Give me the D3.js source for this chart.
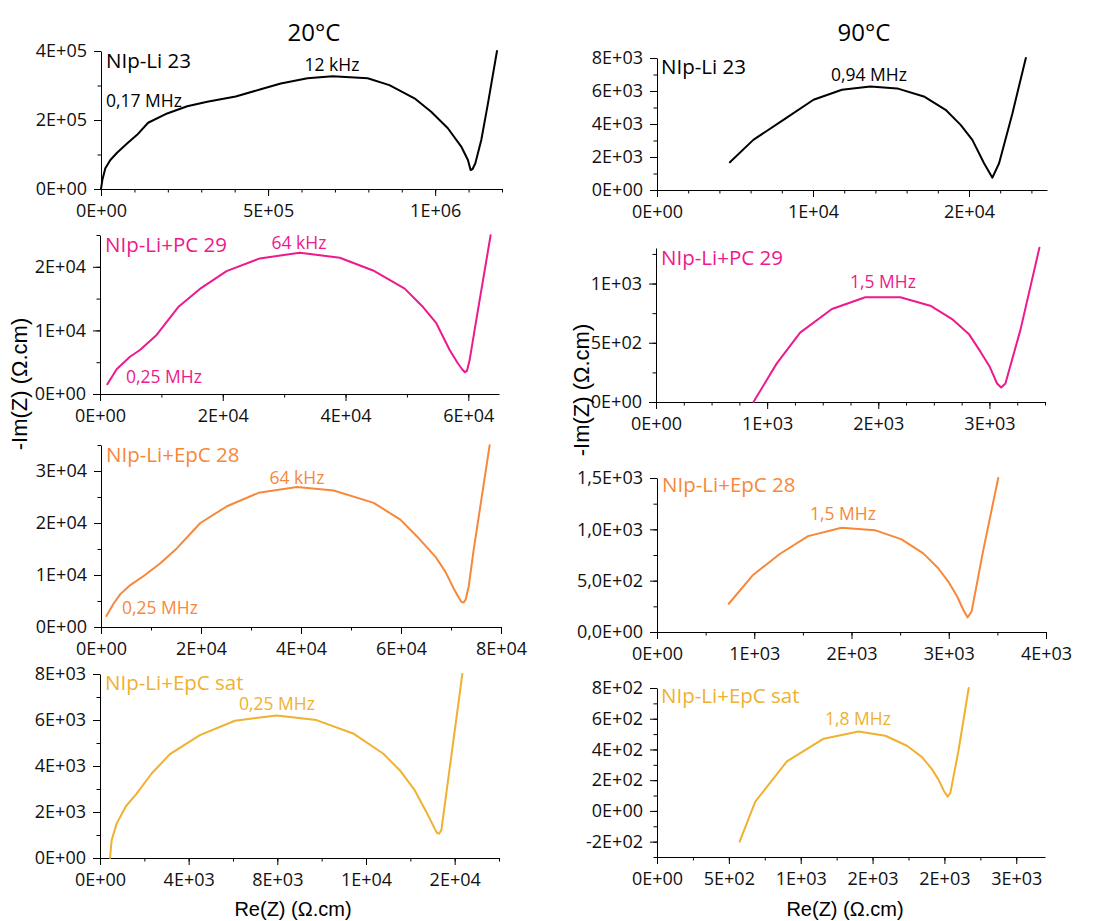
<!DOCTYPE html>
<html>
<head>
<meta charset="utf-8">
<script src="https://cdn.jsdelivr.net/npm/d3@7"></script>
<style>
  html, body { margin: 0; padding: 0; background: #fff; }
  svg { display: block; }
</style>
</head>
<body>
<svg id="chart" width="1107" height="921"></svg>
<script>
// ---------------- DATA ----------------
// 20 °C, NIp-Li 23
const re20_li23 = [0, 4e3, 13e3, 28e3, 48e3, 78e3, 108e3, 141e3, 198e3, 258e3, 318e3, 403e3, 478e3, 538e3, 618e3, 693e3, 798e3, 863e3, 938e3, 988e3, 1038e3, 1078e3, 1098e3, 1106e3, 1112e3, 1120e3, 1138e3, 1158e3, 1185e3];
const im20_li23 = [0, 26e3, 60e3, 84e3, 105e3, 132e3, 157e3, 192e3, 219e3, 240e3, 253e3, 268e3, 289e3, 306e3, 321e3, 327e3, 321e3, 301e3, 263e3, 224e3, 176e3, 123e3, 84e3, 55e3, 58e3, 74e3, 142e3, 248e3, 400e3];
// 90 °C, NIp-Li 23
const re90_li23 = [4673, 6174, 8103, 10032, 11854, 13676, 15391, 17106, 18499, 19464, 20214, 20964, 21500, 21929, 22787, 23644];
const im90_li23 = [1681, 3038, 4253, 5468, 6076, 6278, 6157, 5671, 4861, 3949, 3038, 1620, 749, 1620, 4658, 8000];
// 20 °C, NIp-Li+PC 29
const re20_pc = [1193, 2712, 4882, 6510, 9222, 12749, 16275, 20615, 26040, 32550, 39060, 44485, 49638, 52622, 54792, 56962, 58318, 59023, 59457, 59783, 60217, 61302, 63635];
const im20_pc = [1530, 3905, 5857, 6913, 9288, 13668, 16517, 19314, 21319, 22216, 21425, 19420, 16570, 13668, 11135, 6913, 4802, 3852, 3430, 3641, 5330, 11662, 24960];
// 90 °C, NIp-Li+PC 29
const re90_pc = [877, 1087, 1297, 1583, 1883, 2198, 2468, 2664, 2814, 2919, 3003, 3069, 3105, 3144, 3279, 3450];
const im90_pc = [0, 326, 586, 785, 884, 884, 813, 700, 575, 425, 297, 156, 122, 156, 609, 1303];
// 20 °C, NIp-Li+EpC 28
const re20_epc = [1067, 2533, 3867, 5867, 8533, 11867, 15200, 19867, 25200, 31533, 39200, 46533, 54533, 59867, 63200, 66867, 68867, 70533, 71533, 72067, 72533, 72933, 73533, 74533, 77733];
const im20_epc = [2129, 4516, 6323, 8065, 9806, 12258, 15161, 20000, 23226, 25806, 26903, 26258, 23871, 20645, 17419, 13548, 10645, 7419, 5677, 4839, 4710, 5290, 7742, 14839, 34968];
// 90 °C, NIp-Li+EpC 28
const re90_epc = [738, 988, 1262, 1554, 1897, 2240, 2515, 2738, 2892, 2995, 3087, 3149, 3194, 3235, 3355, 3509];
const im90_epc = [275, 556, 760, 934, 1015, 992, 902, 766, 621, 491, 346, 217, 142, 200, 798, 1500];
// 20 °C, NIp-Li+EpC sat
const re20_sat = [451, 526, 751, 1168, 1653, 2329, 3155, 4507, 6085, 7962, 9765, 11418, 12770, 13521, 14197, 14723, 15099, 15203, 15294, 15399, 16346];
const im20_sat = [0, 769, 1495, 2250, 2802, 3673, 4515, 5343, 5967, 6199, 5997, 5415, 4544, 3818, 2947, 2004, 1278, 1089, 1060, 1205, 8000];
// 90 °C, NIp-Li+EpC sat
const re90_sat = [575, 684, 904, 1160, 1403, 1589, 1739, 1844, 1913, 1960, 1995, 2022, 2041, 2099, 2169];
const im90_sat = [-200, 61, 322, 470, 517, 489, 424, 350, 272, 202, 133, 93, 115, 398, 800];

const temperatures = ["20°C", "90°C"];
const sampleNames = ["NIp-Li 23", "NIp-Li+PC 29", "NIp-Li+EpC 28", "NIp-Li+EpC sat"];
const apexFreq20 = ["12 kHz", "64 kHz", "64 kHz", "0,25 MHz"];
const apexFreq90 = ["0,94 MHz", "1,5 MHz", "1,5 MHz", "1,8 MHz"];
const startFreq20 = ["0,17 MHz", "0,25 MHz", "0,25 MHz", null];
const xTitle = "Re(Z) (Ω.cm)";
const yTitle = "-Im(Z) (Ω.cm)";

// ---------------- STYLE / LAYOUT ----------------
const colors = ["#000000", "#EC1A8C", "#F7883A", "#EFB12F"];
const tickFont = "'Open Sans', sans-serif";
const titleFont = "'Liberation Sans', Arial, sans-serif";

const fmtE = dec => v => {
  let s = (Math.abs(v) < 1e-12 ? 0 : v).toExponential(dec);
  let [m, e] = s.split("e");
  const sign = e[0];
  let digits = e.slice(1);
  if (digits.length < 2) digits = "0" + digits;
  return m.replace(".", ",") + "E" + sign + digits;
};

const panels = [
  { xs: re20_li23, ys: im20_li23, c: 0, row: 0,
    xd: [0, 1.2e6], yd: [0, 4e5], xr: [101, 502], yr: [189, 51],
    xMaj: 5e5, xMin: 1e5, yMaj: 2e5, yMin: 1e5, yDec: 0,
    name: [106, 68], apex: [332, 71], start: [106, 107] },
  { xs: re90_li23, ys: im90_li23, c: 0, row: 0,
    xd: [0, 2.5e4], yd: [0, 8e3], xr: [657, 1047], yr: [190, 58],
    xMaj: 1e4, xMin: 2e3, yMaj: 2e3, yMin: 1e3, yDec: 0,
    name: [661, 74], apex: [869, 81] },
  { xs: re20_pc, ys: im20_pc, c: 1, row: 1,
    xd: [0, 6.5e4], yd: [0, 2.5e4], xr: [100, 499], yr: [394, 235],
    xMaj: 2e4, xMin: 1e4, yMaj: 1e4, yMin: 5e3, yDec: 0,
    name: [105, 252], apex: [299, 249], start: [126, 383] },
  { xs: re90_pc, ys: im90_pc, c: 1, row: 1,
    xd: [0, 3.5e3], yd: [0, 1.3e3], xr: [656, 1045], yr: [402, 248],
    xMaj: 1e3, xMin: 250, yMaj: 500, yMin: 250, yDec: 0,
    name: [661, 265], apex: [883, 288] },
  { xs: re20_epc, ys: im20_epc, c: 2, row: 2,
    xd: [0, 8e4], yd: [0, 3.5e4], xr: [101, 501], yr: [627, 445],
    xMaj: 2e4, xMin: 1e4, yMaj: 1e4, yMin: 5e3, yDec: 0,
    name: [106, 462], apex: [297, 484], start: [122, 614] },
  { xs: re90_epc, ys: im90_epc, c: 2, row: 2,
    xd: [0, 4e3], yd: [0, 1.5e3], xr: [657, 1046], yr: [632, 478],
    xMaj: 1e3, xMin: 500, yMaj: 500, yMin: 250, yDec: 1,
    name: [662, 492], apex: [843, 520] },
  { xs: re20_sat, ys: im20_sat, c: 3, row: 3,
    xd: [0, 1.8e4], yd: [0, 8e3], xr: [100, 499], yr: [858, 674],
    xMaj: 4e3, xMin: 2e3, yMaj: 2e3, yMin: 1e3, yDec: 0,
    name: [105, 690], apex: [277, 710] },
  { xs: re90_sat, ys: im90_sat, c: 3, row: 3,
    xd: [0, 2.7e3], yd: [-300, 800], xr: [657, 1045], yr: [857, 688],
    xMaj: 500, xMin: 250, yMaj: 200, yMin: 100, yDec: 0,
    name: [661, 703], apex: [858, 725] }
];

const svg = d3.select("#chart");
svg.append("rect").attr("width", 1107).attr("height", 921).attr("fill", "#fff");

const stepValues = (d, step) => {
  const a = Math.ceil(d[0] / step - 1e-9), b = Math.floor(d[1] / step + 1e-9);
  return d3.range(a, b + 1).map(k => k * step);
};

panels.forEach((p, i) => {
  const col = i % 2;
  const color = colors[p.c];
  const x = d3.scaleLinear().domain(p.xd).range(p.xr);
  const y = d3.scaleLinear().domain(p.yd).range(p.yr);
  const g = svg.append("g");

  // minor ticks
  g.append("g").attr("transform", `translate(0,${p.yr[0]})`)
    .call(d3.axisBottom(x).tickValues(stepValues(p.xd, p.xMin)).tickSize(3.5).tickFormat(""))
    .call(s => s.select(".domain").remove());
  g.append("g").attr("transform", `translate(${p.xr[0]},0)`)
    .call(d3.axisLeft(y).tickValues(stepValues(p.yd, p.yMin)).tickSize(3.5).tickFormat(""))
    .call(s => s.select(".domain").remove());

  // major ticks + labels
  const xa = g.append("g").attr("transform", `translate(0,${p.yr[0]})`)
    .call(d3.axisBottom(x).tickValues(stepValues(p.xd, p.xMaj)).tickSize(7).tickSizeOuter(0).tickPadding(8).tickFormat(fmtE(0)));
  const ya = g.append("g").attr("transform", `translate(${p.xr[0]},0)`)
    .call(d3.axisLeft(y).tickValues(stepValues(p.yd, p.yMaj)).tickSize(7).tickSizeOuter(0).tickPadding(7).tickFormat(fmtE(p.yDec)));
  [xa, ya].forEach(a => {
    a.selectAll("text").attr("font-family", tickFont).attr("font-size", 18).attr("fill", "#111");
    a.selectAll("line,path").attr("stroke", "#000").attr("stroke-width", 1);
  });

  // data line
  const pts = p.xs.map((v, k) => [v, p.ys[k]]);
  g.append("path").datum(pts)
    .attr("fill", "none").attr("stroke", color).attr("stroke-width", 2)
    .attr("stroke-linejoin", "round").attr("stroke-linecap", "round")
    .attr("d", d3.line().x(d => x(d[0])).y(d => y(d[1])));

  // annotations
  g.append("text").attr("x", p.name[0]).attr("y", p.name[1])
    .attr("font-family", tickFont).attr("font-size", 20.5).attr("fill", color)
    .text(sampleNames[p.row]);
  const apexText = col === 0 ? apexFreq20[p.row] : apexFreq90[p.row];
  g.append("text").attr("x", p.apex[0]).attr("y", p.apex[1]).attr("text-anchor", "middle")
    .attr("font-family", tickFont).attr("font-size", 17.5).attr("fill", color)
    .text(apexText);
  if (col === 0 && startFreq20[p.row] && p.start) {
    g.append("text").attr("x", p.start[0]).attr("y", p.start[1])
      .attr("font-family", tickFont).attr("font-size", 17.5).attr("fill", color)
      .text(startFreq20[p.row]);
  }
});

// column titles
[[314, 41], [864, 41]].forEach((pos, i) => {
  svg.append("text").attr("x", pos[0]).attr("y", pos[1]).attr("text-anchor", "middle")
    .attr("font-family", tickFont).attr("font-size", 24).attr("fill", "#000")
    .text(temperatures[i]);
});

// axis titles
[[293, 916], [845, 916]].forEach(pos => {
  svg.append("text").attr("x", pos[0]).attr("y", pos[1]).attr("text-anchor", "middle")
    .attr("font-family", titleFont).attr("font-size", 20).attr("fill", "#000")
    .text(xTitle);
});
[[27, 384], [589, 390]].forEach(pos => {
  svg.append("text").attr("transform", `translate(${pos[0]},${pos[1]}) rotate(-90)`)
    .attr("text-anchor", "middle")
    .attr("font-family", titleFont).attr("font-size", 22).attr("fill", "#000")
    .text(yTitle);
});
</script>
</body>
</html>
